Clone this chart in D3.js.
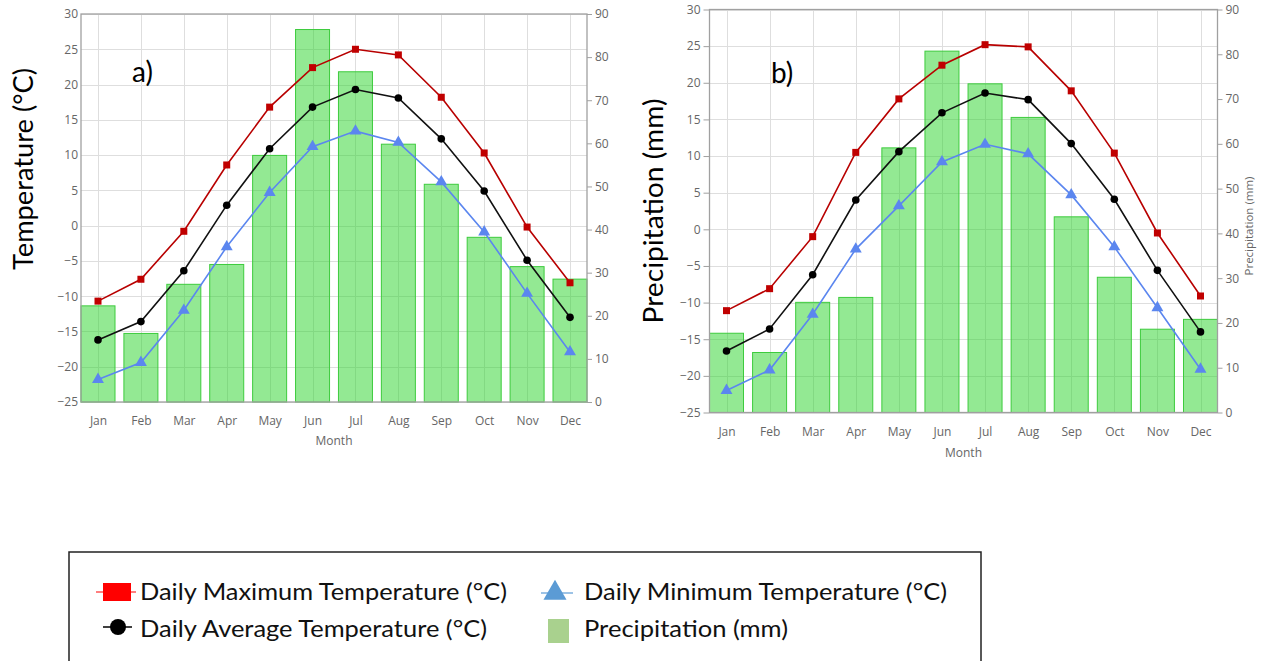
<!DOCTYPE html>
<html><head><meta charset="utf-8">
<script src="https://cdn.jsdelivr.net/npm/d3@7"></script>
<style>body{margin:0;background:#fff;} svg{display:block;}</style>
</head><body>
<svg id="c" width="1263" height="661"></svg>
<script>
const months = ["Jan","Feb","Mar","Apr","May","Jun","Jul","Aug","Sep","Oct","Nov","Dec"];
const tempTicks = [-25,-20,-15,-10,-5,0,5,10,15,20,25,30];
const precipTicks = [0,10,20,30,40,50,60,70,80,90];
const maxTempA = [-10.7,-7.6,-0.8,8.6,16.8,22.4,25.0,24.2,18.2,10.3,-0.2,-8.1];
const avgTempA = [-16.2,-13.6,-6.4,2.9,10.9,16.8,19.3,18.1,12.3,4.9,-4.9,-13.0];
const minTempA = [-21.8,-19.4,-12.0,-3.0,4.7,11.2,13.4,11.8,6.2,-0.9,-9.6,-17.9];
const precipA  = [22.3,15.9,27.3,31.9,57.2,86.4,76.6,59.8,50.5,38.2,31.4,28.5];
const maxTempB = [-11.1,-8.1,-1.0,10.5,17.8,22.4,25.2,24.9,18.9,10.4,-0.5,-9.1];
const avgTempB = [-16.6,-13.6,-6.2,4.0,10.6,15.9,18.6,17.7,11.7,4.1,-5.6,-14.0];
const minTempB = [-22.0,-19.2,-11.6,-2.7,3.2,9.2,11.6,10.3,4.7,-2.4,-10.7,-19.1];
const precipB  = [17.7,13.4,24.6,25.7,59.1,80.7,73.4,65.9,43.7,30.2,18.6,20.8];
const panelLabels = ["a)","b)"];
const axisTitles = ["Temperature (°C)","Precipitation (mm)","Month"];
const legendLabels = ["Daily Maximum Temperature (°C)","Daily Minimum Temperature (°C)","Daily Average Temperature (°C)","Precipitation (mm)"];

const svg = d3.select("#c");
const AX_FONT = "'Open Sans', sans-serif";
const BIG_FONT = "Lato, 'Open Sans', sans-serif";
const GRID = "#dedede", AXC = "#a0a0a0", TXT = "#666";
const RED = "#b80000", RED_M = "#c00000", BLUE = "#5b86ef";

function panel(o) {
  const g = svg.append("g");
  const x = d3.scalePoint().domain(months).range([o.left + 17, o.right - 17]);
  const yT = d3.scaleLinear().domain([-25, 30]).range([o.bottom, o.top]);
  const yP = d3.scaleLinear().domain([0, 90]).range([o.bottom, o.top]);

  // grid
  g.append("g").selectAll("line").data(tempTicks).join("line")
    .attr("x1", o.left).attr("x2", o.right)
    .attr("y1", d => Math.round(yT(d)) + 0.5).attr("y2", d => Math.round(yT(d)) + 0.5)
    .attr("stroke", GRID);
  g.append("g").selectAll("line").data(months).join("line")
    .attr("x1", d => Math.round(x(d)) + 0.5).attr("x2", d => Math.round(x(d)) + 0.5)
    .attr("y1", o.top).attr("y2", o.bottom)
    .attr("stroke", GRID);

  // bars
  g.append("g").selectAll("rect").data(o.precip).join("rect")
    .attr("x", (d, i) => x(months[i]) - 17).attr("width", 34)
    .attr("y", d => yP(d)).attr("height", d => yP(0) - yP(d))
    .attr("fill", "rgba(40,212,40,0.5)").attr("stroke", "#3dcb3d").attr("stroke-width", 1);

  // frame
  g.append("rect").attr("x", o.left).attr("y", o.top)
    .attr("width", o.right - o.left).attr("height", o.bottom - o.top)
    .attr("fill", "none").attr("stroke", AXC).attr("stroke-width", 1.3);

  // axes
  const la = g.append("g").attr("transform", `translate(${o.left},0)`)
    .call(d3.axisLeft(yT).tickValues(tempTicks).tickSize(o.leftTick).tickPadding(o.leftPad));
  const ra = g.append("g").attr("transform", `translate(${o.right},0)`)
    .call(d3.axisRight(yP).tickValues(precipTicks).tickSize(5).tickPadding(3));
  const ba = g.append("g").attr("transform", `translate(0,${o.bottom})`)
    .call(d3.axisBottom(x).tickSize(0).tickPadding(o.monthPad));
  [la, ra, ba].forEach(a => {
    a.select(".domain").remove();
    a.selectAll("line").attr("stroke", AXC);
    a.selectAll("text").attr("fill", TXT).attr("font-family", AX_FONT).attr("font-size", 12);
  });

  // series
  const line = d3.line().x((d, i) => x(months[i])).y(d => yT(d));
  g.append("path").datum(o.max).attr("d", line).attr("fill", "none").attr("stroke", RED).attr("stroke-width", 1.6);
  g.append("path").datum(o.avg).attr("d", line).attr("fill", "none").attr("stroke", "#111").attr("stroke-width", 1.6);
  g.append("path").datum(o.min).attr("d", line).attr("fill", "none").attr("stroke", BLUE).attr("stroke-width", 1.6);

  g.append("g").selectAll("rect").data(o.max).join("rect")
    .attr("x", (d, i) => x(months[i]) - 3.5).attr("y", d => yT(d) - 3.5)
    .attr("width", 7).attr("height", 7).attr("fill", RED_M);
  g.append("g").selectAll("circle").data(o.avg).join("circle")
    .attr("cx", (d, i) => x(months[i])).attr("cy", d => yT(d)).attr("r", 3.8).attr("fill", "#000");
  const tri = d3.symbol().type(d3.symbolTriangle).size(62);
  g.append("g").selectAll("path").data(o.min).join("path")
    .attr("d", tri).attr("transform", (d, i) => `translate(${x(months[i])},${yT(d)})`)
    .attr("fill", BLUE);

  // month title
  g.append("text").attr("x", (o.left + o.right) / 2).attr("y", o.monthY)
    .attr("text-anchor", "middle").attr("font-family", AX_FONT).attr("font-size", 12)
    .attr("fill", TXT).text(axisTitles[2]);

  // panel label
  g.append("text").attr("x", o.labX).attr("y", o.labY)
    .attr("font-family", BIG_FONT).attr("font-size", 28).attr("fill", "#000").text(o.label);

  // big left title
  g.append("text").attr("transform", `translate(${o.titleX},${o.titleY}) rotate(-90)`)
    .attr("text-anchor", "middle").attr("font-family", BIG_FONT).attr("font-size", 26)
    .attr("fill", "#000").attr("textLength", o.titleLen).attr("lengthAdjust", "spacingAndGlyphs")
    .text(o.title);

  if (o.rightTitle) {
    g.append("text").attr("transform", `translate(${o.rightTitleX},${o.rightTitleY}) rotate(-90)`)
      .attr("text-anchor", "middle").attr("font-family", AX_FONT).attr("font-size", 11.5)
      .attr("fill", TXT).text(o.rightTitle);
  }
}

panel({left: 81, right: 587, top: 14, bottom: 402, leftTick: 0, leftPad: 3, monthPad: 14,
  monthY: 445, max: maxTempA, avg: avgTempA, min: minTempA, precip: precipA,
  label: panelLabels[0], labX: 132, labY: 82,
  title: axisTitles[0], titleX: 33, titleY: 169, titleLen: 202});

panel({left: 709.5, right: 1217.5, top: 9.5, bottom: 412.5, leftTick: 6, leftPad: 3, monthPad: 15,
  monthY: 457, max: maxTempB, avg: avgTempB, min: minTempB, precip: precipB,
  label: panelLabels[1], labX: 771, labY: 83,
  title: axisTitles[1], titleX: 663, titleY: 211, titleLen: 225,
  rightTitle: axisTitles[1], rightTitleX: 1253, rightTitleY: 226});

// legend
const lg = svg.append("g");
lg.append("rect").attr("x", 69).attr("y", 552).attr("width", 912).attr("height", 130)
  .attr("fill", "none").attr("stroke", "#222").attr("stroke-width", 1.5);
const LF = BIG_FONT;
// max
lg.append("line").attr("x1", 96).attr("x2", 136).attr("y1", 592).attr("y2", 592).attr("stroke", "#f00").attr("stroke-width", 1.2);
lg.append("rect").attr("x", 103).attr("y", 583).attr("width", 28).attr("height", 18).attr("fill", "#f00");
// avg
lg.append("line").attr("x1", 103).attr("x2", 132).attr("y1", 627).attr("y2", 627).attr("stroke", "#000").attr("stroke-width", 1.5);
lg.append("circle").attr("cx", 118).attr("cy", 627).attr("r", 8).attr("fill", "#000");
// min
lg.append("line").attr("x1", 541).attr("x2", 573).attr("y1", 593).attr("y2", 593).attr("stroke", "#5b9bd5").attr("stroke-width", 1.2);
lg.append("path").attr("d", d3.symbol().type(d3.symbolTriangle).size(230)).attr("transform", "translate(555,593)").attr("fill", "#5b9bd5");
// precip
lg.append("rect").attr("x", 548).attr("y", 619).attr("width", 21).attr("height", 24).attr("fill", "#a9d18e");

const legPos = [[140, 600, 367], [584, 600, 363], [140, 637, 347], [584, 637, 204]];
lg.selectAll("text.lt").data(legendLabels).join("text").attr("class", "lt")
  .attr("x", (d, i) => legPos[i][0]).attr("y", (d, i) => legPos[i][1])
  .attr("font-family", LF).attr("font-size", 23).attr("fill", "#111")
  .attr("textLength", (d, i) => legPos[i][2]).attr("lengthAdjust", "spacingAndGlyphs")
  .text(d => d);
</script>
</body></html>
